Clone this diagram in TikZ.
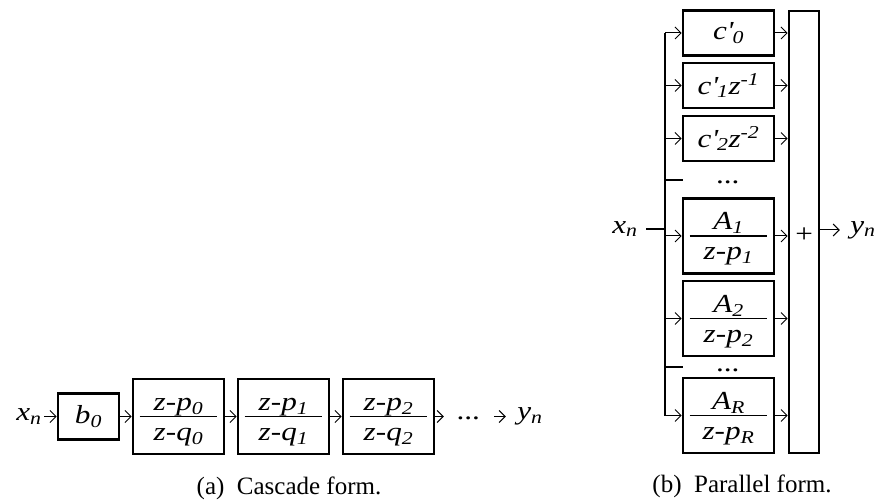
\documentclass[tikz,border=0pt]{standalone}
\usepackage{fontspec}
\setmainfont{Liberation Serif}
\newfontfamily\widefont[FakeStretch=1.2]{Liberation Serif}
\usetikzlibrary{arrows.meta,positioning}

\tikzset{
  txt/.style={font=\widefont\fontsize{26}{28}\selectfont\itshape, inner sep=1pt},
  blk/.style={draw, line width=2.6pt, inner sep=0pt, font=\widefont\fontsize{26}{28}\selectfont\itshape},
  cblk/.style={blk, minimum width=91pt, minimum height=45pt},
  fblk/.style={blk, minimum width=91pt, minimum height=75pt},
  arr/.style={-{Straight Barb[length=6pt,width=12pt]}, line width=1pt},
  wire/.style={line width=2pt},
  fline/.style={line width=1.4pt},
  capt/.style={font=\fontsize{25}{28}\selectfont, inner sep=0pt}
}

% box with a fraction inside
\newcommand\fracblk[4]{%
  \node[fblk] (#1) at (#2) {};
  \draw[fline] ([xshift=8pt]#1.west) -- ([xshift=-8pt]#1.east);
  \node[txt,anchor=base] (#1n) at ([yshift=6pt]#1.center) {#3};
  \node[txt,anchor=base] (#1d) at ([yshift=-24pt]#1.center) {#4};
}

\begin{document}
\begin{tikzpicture}[x=1pt,y=-1pt]
  \useasboundingbox (0,0) rectangle (875,502);

  % (a) cascade
  \node[txt,minimum width=30pt] (xa) at (29,416.5) {x\textsubscript{n}};
  \node[blk,minimum width=61pt,minimum height=46pt] (b0) at (88.5,416.5) {b\textsubscript{0}};
  \fracblk{h0}{178.5,416.5}{z-p\textsubscript{0}}{z-q\textsubscript{0}}
  \fracblk{h1}{283.5,416.5}{z-p\textsubscript{1}}{z-q\textsubscript{1}}
  \fracblk{h2}{388.5,416.5}{z-p\textsubscript{2}}{z-q\textsubscript{2}}
  \node[txt,minimum width=50pt] (da) at (469,418) {...};
  \node[txt,minimum width=48pt] (ya) at (530,416.5) {y\textsubscript{n}};
  \draw[arr] (xa) -- (b0);
  \draw[arr] (b0) -- (h0);
  \draw[arr] (h0) -- (h1);
  \draw[arr] (h1) -- (h2);
  \draw[arr] (h2.east) -- (h2.east -| da.west);
  \draw[arr] (da.east |- h2.east) -- (ya);
  \node[capt] (ca) at (289,488) {(a)\hspace{0.5em}Cascade form.};

  % (b) parallel
  \node[cblk] (c0) at (728.5,33) {c\textquotesingle\textsubscript{0}};
  \node[cblk] (c1) at (728.5,85.5) {c\textquotesingle\textsubscript{1}z\textsuperscript{-1}};
  \node[cblk] (c2) at (728.5,138.5) {c\textquotesingle\textsubscript{2}z\textsuperscript{-2}};
  \node[txt,anchor=base] (d1) at (728.5,184) {...};
  \fracblk{a1}{728.5,236}{A\textsubscript{1}}{z-p\textsubscript{1}}
  \fracblk{a2}{728.5,318.5}{A\textsubscript{2}}{z-p\textsubscript{2}}
  \node[txt,anchor=base] (d2) at (728.5,371) {...};
  \fracblk{ar}{728.5,415.5}{A\textsubscript{R}}{z-p\textsubscript{R}}
  \node[blk,minimum width=30pt,minimum height=442pt] (sum) at (804,232) {};
  \node[txt] (plus) at (804,235) {+};

  \coordinate (k0) at (665,33);
  \coordinate (k1) at (665,85.5);
  \coordinate (k2) at (665,138.5);
  \coordinate (k3) at (665,180);
  \coordinate (s3) at (683,180);
  \coordinate (k4) at (665,236);
  \coordinate (k5) at (665,318.5);
  \coordinate (k6) at (665,367);
  \coordinate (s6) at (683,367);
  \coordinate (k7) at (665,415.5);
  \coordinate (kx) at (665,229);

  \draw[wire] (k0) -- (k7);
  \foreach \k/\b in {k0/c0,k1/c1,k2/c2,k4/a1,k5/a2,k7/ar}
    \draw[arr] (\k) -- (\b);
  \draw[fline] (k3) -- (s3);
  \draw[fline] (k6) -- (s6);
  \foreach \b in {c0,c1,c2,a1,a2,ar}
    \draw[arr] (\b) -- (\b -| sum.west);

  \node[txt,minimum width=42pt] (xb) at (625,229) {x\textsubscript{n}};
  \node[txt,minimum width=46pt] (yb) at (863,230) {y\textsubscript{n}};
  \draw[wire] (xb) -- (kx);
  \draw[arr] (sum.east |- yb) -- (yb);
  \node[capt] (cb) at (742,486) {(b)\hspace{0.5em}Parallel form.};
\end{tikzpicture}
\end{document}
